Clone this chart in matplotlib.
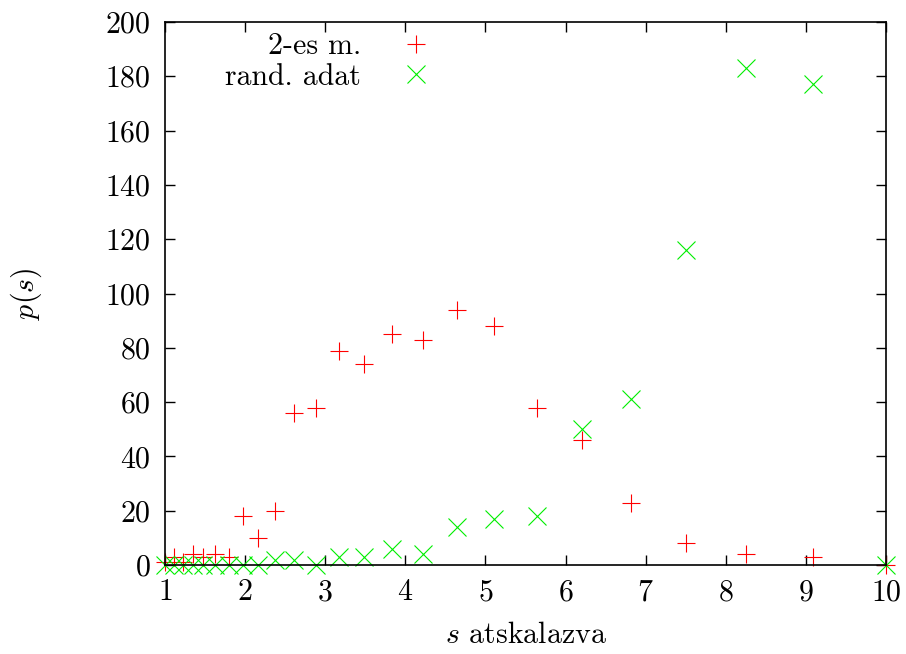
import numpy as np
import matplotlib
matplotlib.use('Agg')
import matplotlib.pyplot as plt

plt.rcParams['font.family'] = 'serif'
plt.rcParams['font.serif'] = ['cmr10']
plt.rcParams['mathtext.fontset'] = 'cm'
plt.rcParams['axes.formatter.use_mathtext'] = True

# scaled s values and counts
s = [1.0, 1.11, 1.22, 1.35, 1.48, 1.63, 1.8, 1.97, 2.16, 2.37, 2.61, 2.88,
     3.17, 3.49, 3.83, 4.22, 4.65, 5.11, 5.64, 6.2, 6.82, 7.5, 8.25, 9.09, 10.0]
p_2es = [1, 3, 1, 4, 3, 4, 3, 18, 10, 20, 56, 58,
         79, 74, 85, 83, 94, 88, 58, 46, 23, 8, 4, 3, 0]
p_rand = [0, 0, 0, 0, 0, 0, 0, 0, 0, 2, 2, 0,
          3, 3, 6, 4, 14, 17, 18, 50, 61, 116, 183, 177, 0]

xticks = [1, 2, 3, 4, 5, 6, 7, 8, 9, 10]
yticks = [0, 20, 40, 60, 80, 100, 120, 140, 160, 180, 200]

fs = 21.5

fig = plt.figure(figsize=(9.06, 6.54), dpi=100)
ax = fig.add_axes([0.1821, 0.136, 0.7959, 0.8304])

ax.plot(s, p_2es, linestyle='none', marker='+', color='#ff0000',
        markersize=13, markeredgewidth=0.8, label='2-es m.', clip_on=False)
ax.plot(s, p_rand, linestyle='none', marker='x', color='#00ee00',
        markersize=13, markeredgewidth=0.8, label='rand. adat', clip_on=False)

ax.set_xlim(1, 10)
ax.set_ylim(0, 200)
ax.set_xticks(xticks)
ax.set_yticks(yticks)
ax.tick_params(direction='in', top=True, right=True, length=7, width=1,
               labelsize=fs, pad=10)
for sp in ax.spines.values():
    sp.set_linewidth(1.2)

ax.set_xlabel('$s$ atskalazva', fontsize=fs, labelpad=11)
ax.set_ylabel('$p(s)$', fontsize=fs, labelpad=44)

ax.legend(loc='upper right', bbox_to_anchor=(431 / 906, 1 - 33 / 654),
          bbox_transform=fig.transFigure, frameon=False, markerfirst=False,
          fontsize=fs, handletextpad=1.35, labelspacing=0.1, handlelength=1.0,
          borderpad=0, borderaxespad=0)

fig.savefig('out.png', dpi=100)
